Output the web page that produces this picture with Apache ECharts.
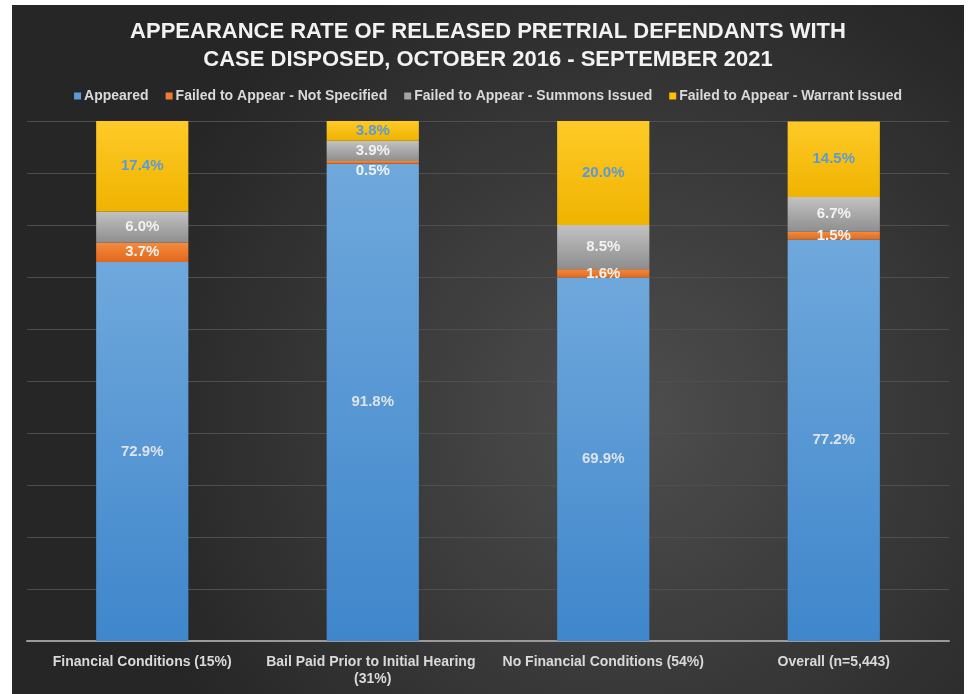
<!DOCTYPE html>
<html>
<head>
<meta charset="utf-8">
<script src="https://cdn.jsdelivr.net/npm/echarts@6/dist/echarts.min.js"></script>
<style>
html,body{margin:0;padding:0;background:#ffffff;width:969px;height:694px;overflow:hidden;}
#chart{position:absolute;left:12px;top:5px;width:952px;height:689px;}
</style>
</head>
<body>
<div id="chart"></div>
<script>
const titleText = 'APPEARANCE RATE OF RELEASED PRETRIAL DEFENDANTS WITH\nCASE DISPOSED, OCTOBER 2016 - SEPTEMBER 2021';
const categories = ['Financial Conditions (15%)', 'Bail Paid Prior to Initial Hearing (31%)', 'No Financial Conditions (54%)', 'Overall (n=5,443)'];
const seriesNames = ['Appeared', 'Failed to Appear - Not Specified', 'Failed to Appear - Summons Issued', 'Failed to Appear - Warrant Issued'];
const appeared = [72.9, 91.8, 69.9, 77.2];
const notSpecified = [3.7, 0.5, 1.6, 1.5];
const summonsIssued = [6.0, 3.9, 8.5, 6.7];
const warrantIssued = [17.4, 3.8, 20.0, 14.5];

const seriesValues = [appeared, notSpecified, summonsIssued, warrantIssued];
const colorStops = [
  ['#6fa8dc', '#3f86cb'],
  ['#f58a3d', '#e0691c'],
  ['#c2c2c2', '#8e8e8e'],
  ['#ffca28', '#efb300']
];
const labelColors = ['#dde3ea', '#f2f2f2', '#f2f2f2', '#5b9bd5'];
const legendColors = ['#5b9bd5', '#ed7d31', '#a5a5a5', '#ffc000'];

const chart = echarts.init(document.getElementById('chart'), null, {renderer: 'canvas'});

const series = seriesValues.map((vals, i) => ({
  name: seriesNames[i],
  type: 'bar',
  stack: 'total',
  barWidth: '40%',
  data: vals.map((v, j) => {
    const item = {value: v};
    if (i === 1 && v < 1) item.label = {offset: [0, 9]};
    return item;
  }),
  itemStyle: {
    color: new echarts.graphic.LinearGradient(0, 0, 0, 1, [
      {offset: 0, color: colorStops[i][0]},
      {offset: 1, color: colorStops[i][1]}
    ])
  },
  label: {
    show: true,
    position: 'inside',
    formatter: p => p.value.toFixed(1) + '%',
    color: labelColors[i],
    fontFamily: 'Liberation Sans',
    fontWeight: 'bold',
    fontSize: 15
  },
  emphasis: {disabled: true}
}));

chart.setOption({
  animation: false,
  backgroundColor: new echarts.graphic.RadialGradient(0.65, 0.6, 0.75, [
    {offset: 0, color: '#4e4e4e'},
    {offset: 1, color: '#262626'}
  ]),
  color: legendColors,
  title: {
    text: titleText,
    left: 'center',
    top: 8,
    textStyle: {
      color: '#f2f2f2',
      fontFamily: 'Liberation Sans',
      fontWeight: 'bold',
      fontSize: 22,
      lineHeight: 28
    }
  },
  legend: {
    top: 79,
    left: 'center',
    icon: 'rect',
    itemWidth: 7,
    itemHeight: 7,
    itemGap: 17,
    textStyle: {
      color: '#d9d9d9',
      fontFamily: 'Liberation Sans',
      fontWeight: 'bold',
      fontSize: 14,
      padding: [0, 0, 0, -2]
    },
    data: seriesNames.map((n, i) => ({name: n, itemStyle: {color: legendColors[i]}}))
  },
  grid: {left: 15, right: 15, top: 116, bottom: 53, containLabel: false},
  xAxis: {
    type: 'category',
    data: categories,
    axisTick: {show: false},
    axisLine: {lineStyle: {color: '#9a9a9a', width: 2}},
    axisLabel: {
      color: '#d9d9d9',
      fontFamily: 'Liberation Sans',
      fontWeight: 'bold',
      fontSize: 14,
      margin: 13,
      width: 222,
      overflow: 'break',
      lineHeight: 17,
      interval: 0
    }
  },
  yAxis: {
    type: 'value',
    min: 0,
    max: 100,
    interval: 10,
    axisLabel: {show: false},
    axisLine: {show: false},
    axisTick: {show: false},
    splitLine: {lineStyle: {color: '#4f4f4f', width: 1}}
  },
  series: series
});
</script>
</body>
</html>
